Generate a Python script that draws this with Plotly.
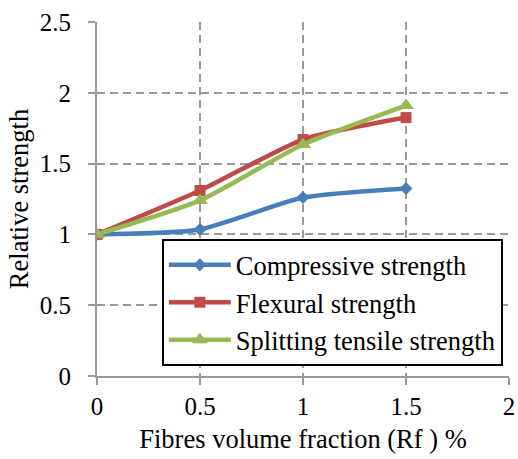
import plotly.graph_objects as go

fibre_fraction = [0, 0.5, 1, 1.5]
compressive = [1.0, 1.035, 1.26, 1.325]
flexural = [1.0, 1.31, 1.67, 1.825]
splitting = [1.0, 1.24, 1.635, 1.91]

series_names = ["Compressive strength", "Flexural strength", "Splitting tensile strength"]
colors = ["#4A7EBB", "#BE4B48", "#98B954"]
symbols = ["diamond", "square", "triangle-up"]
sizes = [10, 11, 14]

fig = go.Figure()
for name, ys, c, s, sz in zip(series_names, [compressive, flexural, splitting], colors, symbols, sizes):
    fig.add_trace(go.Scatter(
        x=fibre_fraction, y=ys, name=name, mode="lines+markers",
        line=dict(color=c, width=4.5, shape="spline", smoothing=0.6),
        marker=dict(symbol=s, size=sz, color=c),
    ))

font_family = "Liberation Serif"
axis_common = dict(
    showgrid=True, gridcolor="#999999", gridwidth=1.5, griddash="8px,5px",
    showline=True, linecolor="#999999", linewidth=2,
    ticks="outside", ticklen=7, tickcolor="#999999", tickwidth=2,
    zeroline=False, automargin=False,
    tickfont=dict(family=font_family, size=25, color="black"),
)

fig.update_xaxes(
    range=[0, 2], tickvals=[0, 0.5, 1, 1.5, 2], ticktext=["0", "0.5", "1", "1.5", "2"],
    title=dict(text="Fibres volume fraction (Rf ) %", font=dict(family=font_family, size=26.5, color="black"), standoff=10),
    **axis_common,
)
fig.update_yaxes(
    range=[0, 2.5], tickvals=[0, 0.5, 1, 1.5, 2, 2.5], ticktext=["0", "0.5", "1", "1.5", "2", "2.5"],
    title=dict(text="Relative strength", font=dict(family=font_family, size=26.5, color="black"), standoff=3),
    ticklabelstandoff=12,
    **axis_common,
)

fig.update_layout(
    width=518, height=459,
    font=dict(family=font_family, color="black"),
    margin=dict(l=97, r=9, t=22, b=83, autoexpand=False),
    plot_bgcolor="white", paper_bgcolor="white",
    legend=dict(
        x=0.985, y=0.028, xanchor="right", yanchor="bottom",
        bgcolor="white", bordercolor="black", borderwidth=2,
        font=dict(family=font_family, size=26.5, color="black"),
        tracegroupgap=0, itemwidth=62,
    ),
    showlegend=True,
)

fig.write_html("out.html", post_script="document.body.style.margin='0';", config={"displayModeBar": False})
